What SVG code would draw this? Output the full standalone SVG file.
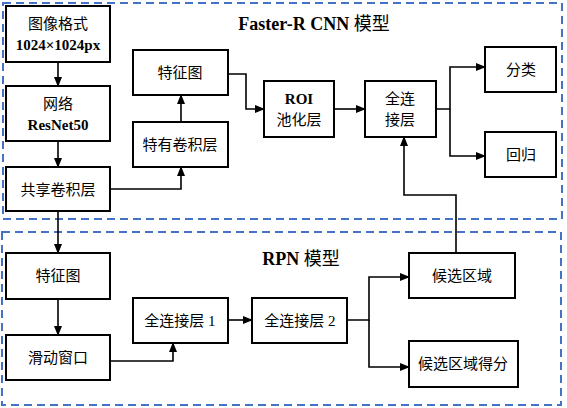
<svg xmlns="http://www.w3.org/2000/svg" width="567" height="408" viewBox="0 0 567 408">
<style>
.box{fill:#fff;stroke:#000;stroke-width:2}
.grp{fill:none;stroke:#4472C4;stroke-width:2;stroke-dasharray:8,5}
.t{font-family:"Liberation Serif","Noto Sans CJK SC",serif;font-size:15px;text-anchor:middle;fill:#000}
.b{font-weight:bold}
.title{font-family:"Liberation Serif","Noto Sans CJK SC",serif;font-size:18px;font-weight:bold;text-anchor:middle;fill:#000}
.c{fill:none;stroke:#000;stroke-width:1.6}
</style>
<defs>
<marker id="ah" markerWidth="10" markerHeight="8" refX="9" refY="4" orient="auto" markerUnits="userSpaceOnUse">
<path d="M0,0 L10,4 L0,8 z" fill="#000"/>
</marker>
</defs>
<rect class="grp" x="3" y="3" width="559" height="216"/>
<rect class="grp" x="2" y="232" width="559" height="173"/>
<text class="title" x="314" y="30">Faster-R CNN <tspan font-weight="normal">模型</tspan></text>
<text class="title" x="301" y="265">RPN <tspan font-weight="normal">模型</tspan></text>
<g id="connectors">
<path class="c" d="M58,62 V86" marker-end="url(#ah)"/>
<path class="c" d="M58,141 V167" marker-end="url(#ah)"/>
<path class="c" d="M110,189 H181 V167" marker-end="url(#ah)"/>
<path class="c" d="M181,122 V95" marker-end="url(#ah)"/>
<path class="c" d="M228,74 H246 V109 H264" marker-end="url(#ah)"/>
<path class="c" d="M334,109 H365" marker-end="url(#ah)"/>
<path class="c" d="M436,109 H450 V67 H485" marker-end="url(#ah)"/>
<path class="c" d="M450,109 V156 H485" marker-end="url(#ah)"/>
<path class="c" d="M456,253 V195 H404 V137" marker-end="url(#ah)"/>
<path class="c" d="M58,211 V253" marker-end="url(#ah)"/>
<path class="c" d="M58,299 V335" marker-end="url(#ah)"/>
<path class="c" d="M110,361 H173 V343" marker-end="url(#ah)"/>
<path class="c" d="M228,320 H252" marker-end="url(#ah)"/>
<path class="c" d="M347,320 H369 V277 H409" marker-end="url(#ah)"/>
<path class="c" d="M369,320 V367 H409" marker-end="url(#ah)"/>
</g>
<g id="input"><rect class="box" x="6" y="6" width="104" height="56"/>
<text class="t" x="58" y="29">图像格式</text><text class="t b" x="58" y="50">1024×1024px</text></g>
<g id="resnet"><rect class="box" x="6" y="86" width="104" height="55"/>
<text class="t" x="58" y="109">网络</text><text class="t b" x="58" y="130">ResNet50</text></g>
<g id="shared"><rect class="box" x="6" y="167" width="104" height="44"/>
<text class="t" x="58" y="195">共享卷积层</text></g>
<g id="featmap1"><rect class="box" x="133" y="50" width="95" height="45"/>
<text class="t" x="180" y="78">特征图</text></g>
<g id="specconv"><rect class="box" x="133" y="122" width="95" height="45"/>
<text class="t" x="180" y="150">特有卷积层</text></g>
<g id="roi"><rect class="box" x="264" y="81" width="70" height="56"/>
<text class="t b" x="299" y="104">ROI</text><text class="t" x="299" y="125">池化层</text></g>
<g id="fc"><rect class="box" x="365" y="81" width="71" height="56"/>
<text class="t" x="400" y="104">全连</text><text class="t" x="400" y="125">接层</text></g>
<g id="cls"><rect class="box" x="485" y="47" width="71" height="45"/>
<text class="t" x="521" y="75">分类</text></g>
<g id="reg"><rect class="box" x="485" y="132" width="71" height="45"/>
<text class="t" x="521" y="160">回归</text></g>
<g id="featmap2"><rect class="box" x="6" y="253" width="104" height="46"/>
<text class="t" x="58" y="281">特征图</text></g>
<g id="slide"><rect class="box" x="6" y="335" width="104" height="45"/>
<text class="t" x="58" y="363">滑动窗口</text></g>
<g id="fc1"><rect class="box" x="133" y="298" width="95" height="45"/>
<text class="t" x="180" y="326">全连接层 1</text></g>
<g id="fc2"><rect class="box" x="252" y="298" width="95" height="45"/>
<text class="t" x="300" y="326">全连接层 2</text></g>
<g id="proposal"><rect class="box" x="409" y="253" width="106" height="45"/>
<text class="t" x="462" y="281">候选区域</text></g>
<g id="score"><rect class="box" x="409" y="341" width="109" height="46"/>
<text class="t" x="463" y="369">候选区域得分</text></g>
</svg>
